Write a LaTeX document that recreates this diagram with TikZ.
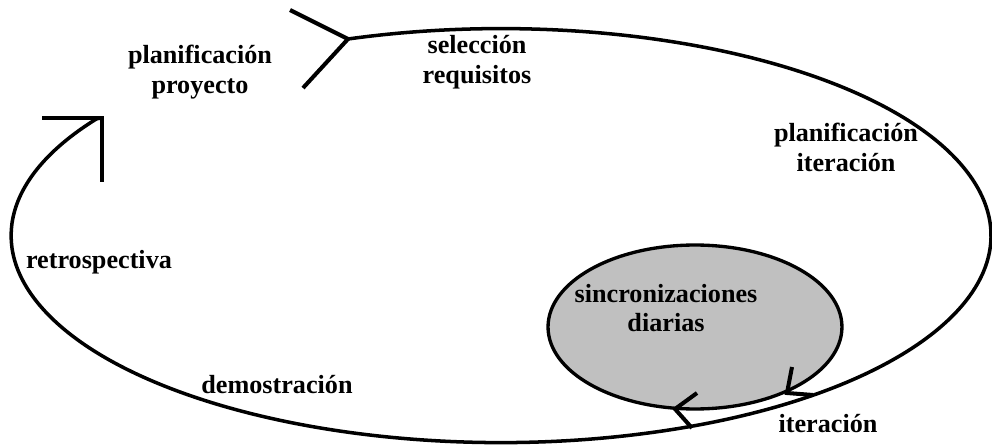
\documentclass[tikz,border=0pt]{standalone}
\usepackage{fontspec}
\setmainfont{Liberation Serif}
\usetikzlibrary{shapes}
\definecolor{syncgray}{RGB}{192,192,192}

\begin{document}
\begin{tikzpicture}[
  x=0.02cm, y=-0.02cm,
  every node/.style={align=center,font=\fontsize{14.9}{17}\selectfont\bfseries},
  phase/.style={inner sep=0pt},
  cycle/.style={line width=2pt},
  tip/.style={line width=2.3pt,line cap=butt},
  daily/.style={draw,line width=1.9pt,ellipse,fill=syncgray,minimum width=5.88cm,minimum height=3.28cm}]

  \useasboundingbox (0,0) rectangle (992,446);

  % daily loop
  \node[daily] (sync) at (695,327) {};
  \node[phase] (tSync) at (666,308) {sincronizaciones\\diarias};

  % phases of the cycle
  \node[phase] (pProject) at (200,72) {planificación\\proyecto};
  \node[phase] (pSelect) at (477,62) {selección\\requisitos};
  \node[phase] (pIterPlan) at (846,147) {planificación\\iteración};
  \node[phase] (pIter) at (828,424) {iteración};
  \node[phase] (pDemo) at (277,385) {demostración};
  \node[phase] (pRetro) at (99,262) {retrospectiva};

  % outer cycle
  \coordinate (cStart) at (348,39);
  \draw[cycle] (cStart) arc[start angle=108.2,end angle=-214.4,x radius=9.8cm,y radius=4.14cm] coordinate (cEnd);

  % open tips of the outer cycle
  \coordinate (sUp) at (290,10);
  \coordinate (sDown) at (303,88);
  \draw[tip] (sUp) -- (cStart) -- (sDown);
  \coordinate (eTip) at (102,118);
  \coordinate (eLeft) at (42,118);
  \coordinate (eDown) at (102,182);
  \draw[tip] (eLeft) -- (eTip) -- (eDown);
  \draw[cycle] (cEnd) -- (eTip);

  % tips between the loops
  \coordinate (inTip) at (675,409);
  \coordinate (inUp) at (697,393);
  \coordinate (inDown) at (692,428);
  \draw[tip] (inUp) -- (inTip) -- (inDown);
  \coordinate (outTip) at (787,393);
  \coordinate (outUp) at (792,367);
  \coordinate (outRight) at (813,395);
  \draw[tip] (outUp) -- (outTip) -- (outRight);
\end{tikzpicture}
\end{document}
